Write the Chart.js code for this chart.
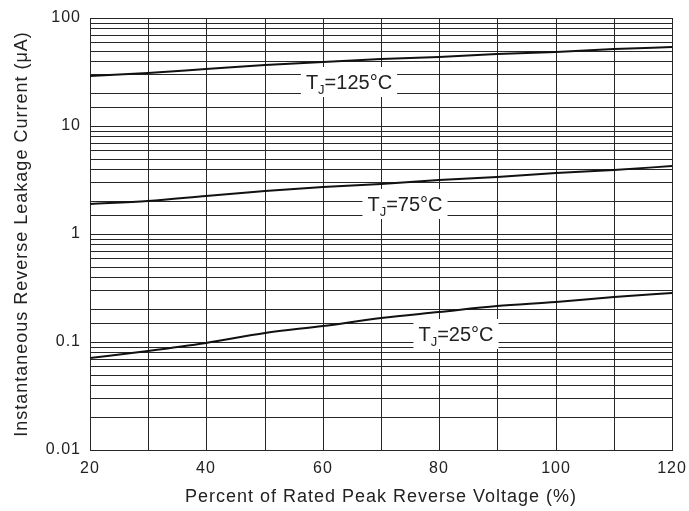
<!DOCTYPE html>
<html>
<head>
<meta charset="utf-8">
<script src="https://cdn.jsdelivr.net/npm/chart.js@4.4.1/dist/chart.umd.min.js"></script>
<style>
  html, body { margin: 0; padding: 0; background: #fff; }
  #wrap { width: 689px; height: 511px; }
</style>
</head>
<body>
<div id="wrap"><canvas id="c" width="689" height="511"></canvas></div>
<script>
// ---- data ----
const xValues = [20, 30, 40, 50, 60, 70, 80, 90, 100, 110, 120];
const tj125 = [29.0, 31.2, 34.0, 37.0, 39.2, 41.5, 43.9, 46.4, 48.7, 51.3, 54.2];
const tj75  = [1.90, 2.03, 2.26, 2.50, 2.74, 2.92, 3.16, 3.40, 3.67, 3.95, 4.26];
const tj25  = [0.0716, 0.082, 0.0986, 0.120, 0.1417, 0.168, 0.191, 0.216, 0.236, 0.259, 0.286];
const xTickLabels = [20, 40, 60, 80, 100, 120];
const yTickLabels = [0.01, 0.1, 1, 10, 100];
const curveLabels = ['=125°C', '=75°C', '=25°C'];
const labelX = [64.5, 74.1, 82.9];
const labelY = [25.5, 1.90, 0.1186];

const FONT = "'Liberation Sans', Arial, Helvetica, sans-serif";
const GRID = '#262626';
const TEXT = '#222';

const spacingPlugin = {
  id: 'spacing',
  beforeLayout(chart) { chart.ctx.letterSpacing = '1px'; },
  beforeDraw(chart) { chart.ctx.letterSpacing = '1px'; }
};

const labelPlugin = {
  id: 'curveLabels',
  afterDatasetsDraw(chart) {
    const ctx = chart.ctx;
    const xs = chart.scales.x, ys = chart.scales.y;
    ctx.save();
    ctx.letterSpacing = '0px';
    for (let i = 0; i < curveLabels.length; i++) {
      const cx = xs.getPixelForValue(labelX[i]);
      const cy = ys.getPixelForValue(labelY[i]);
      const big = '20px ' + FONT, small = '13px ' + FONT;
      ctx.font = big; const wT = ctx.measureText('T').width;
      ctx.font = small; const wJ = ctx.measureText('J').width;
      ctx.font = big; const wR = ctx.measureText(curveLabels[i]).width;
      const total = wT + wJ + wR;
      const padX = 5, halfH = 15;
      ctx.fillStyle = '#fff';
      ctx.fillRect(cx - total / 2 - padX, cy - halfH, total + 2 * padX, halfH * 2);
      ctx.fillStyle = TEXT;
      ctx.textBaseline = 'alphabetic';
      ctx.textAlign = 'left';
      let x0 = cx - total / 2;
      const base = cy + 7;
      ctx.font = big; ctx.fillText('T', x0, base); x0 += wT;
      ctx.font = small; ctx.fillText('J', x0, base + 5); x0 += wJ;
      ctx.font = big; ctx.fillText(curveLabels[i], x0, base);
    }
    ctx.restore();
  }
};

function ds(data) {
  return {
    data: data,
    borderColor: '#111',
    borderWidth: 2,
    pointRadius: 0,
    fill: false,
    cubicInterpolationMode: 'monotone'
  };
}

new Chart(document.getElementById('c'), {
  type: 'line',
  data: {
    labels: xValues,
    datasets: [ds(tj125), ds(tj75), ds(tj25)]
  },
  plugins: [spacingPlugin, labelPlugin],
  options: {
    responsive: false,
    animation: false,
    events: [],
    layout: { padding: { left: 0, right: 17, top: 18, bottom: 0 } },
    plugins: { legend: { display: false }, tooltip: { enabled: false } },
    scales: {
      x: {
        type: 'linear',
        min: 20, max: 120,
        alignToPixels: true,
        grid: { color: GRID, lineWidth: 1, drawTicks: false },
        border: { color: GRID, width: 1 },
        ticks: {
          stepSize: 10, autoSkip: false, maxRotation: 0, padding: 9,
          color: TEXT, font: { family: FONT, size: 16 },
          callback: v => xTickLabels.includes(v) ? String(v) : ''
        },
        title: {
          display: true, text: 'Percent of Rated Peak Reverse Voltage (%)',
          color: TEXT, font: { family: FONT, size: 18 },
          padding: { top: 0, bottom: 3 }
        },
        afterFit(s) { s.height = 61; s.paddingLeft = 0; s.paddingRight = 0; }
      },
      y: {
        type: 'logarithmic',
        min: 0.01, max: 100,
        alignToPixels: true,
        grid: { color: GRID, lineWidth: 1, drawTicks: false },
        border: { color: GRID, width: 1 },
        ticks: {
          autoSkip: false, padding: 9,
          color: TEXT, font: { family: FONT, size: 16 },
          callback: v => {
            const hit = yTickLabels.find(t => Math.abs(t - v) / t < 1e-6);
            return hit !== undefined ? String(hit) : '';
          }
        },
        title: {
          display: true, text: 'Instantaneous Reverse Leakage Current (μA)',
          color: TEXT, font: { family: FONT, size: 18 },
          padding: { top: 11, bottom: 0 }
        },
        afterFit(s) { s.width = 90; s.paddingTop = 0; s.paddingBottom = 0; }
      }
    }
  }
});
</script>
</body>
</html>
